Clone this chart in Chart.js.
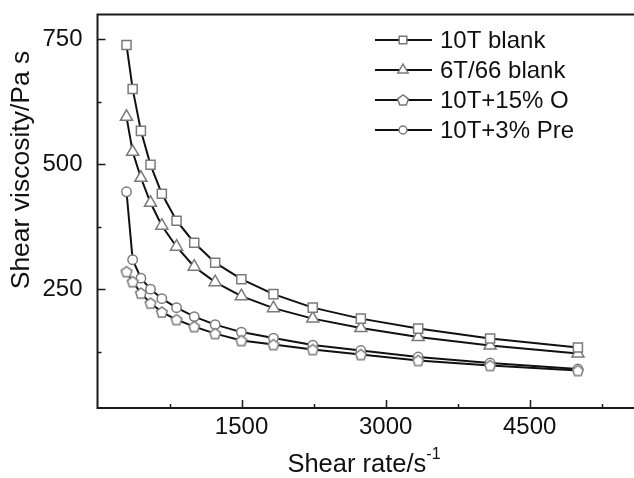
<!DOCTYPE html>
<html>
<head>
<meta charset="utf-8">
<script src="https://cdn.jsdelivr.net/npm/chart.js@4/dist/chart.umd.min.js"></script>
<style>
html, body { margin: 0; padding: 0; background: #fff; overflow: hidden; }
#wrap { width: 640px; height: 478px; }
</style>
</head>
<body>
<div id="wrap"><canvas id="graph1" width="640" height="478"></canvas></div>
<script>
// shear rate (1/s) shared by all four samples
const shearRate = [302, 366, 452, 552, 670, 823, 1007, 1225, 1498, 1832, 2241, 2742, 3339, 4088, 5002];

// shear viscosity (Pa s)
const blank10T   = [739, 651, 567, 499, 441, 387, 343, 303, 270, 240, 213, 191, 171, 151, 133];
const blank6T66  = [595, 525, 473, 423, 377, 335, 295, 264, 236, 212, 191, 172, 154, 137, 121];
const plus15O    = [285, 265, 242, 222, 204, 189, 175, 161, 147, 139, 129, 119, 107, 97, 87];
const plus3Pre   = [445, 309, 272, 250, 231, 213, 195, 179, 164, 152, 138, 127, 114, 102, 90];

const seriesNames = ['10T blank', '6T/66 blank', '10T+15% O', '10T+3% Pre'];

const xTicks = [750, 1500, 2250, 3000, 3750, 4500, 5250];
const xLabels = [1500, 3000, 4500];
const yTicks = [125, 250, 375, 500, 625, 750];
const yLabels = [250, 500, 750];

const FONT = 'Liberation Sans, Arial, sans-serif';
const markGray = '#7a7a7a';

// pentagon marker, chart.js has no built-in one
function makePentagon(r) {
    const c = document.createElement('canvas');
    const s = Math.ceil(r * 2 + 4);
    c.width = s; c.height = s;
    const g = c.getContext('2d');
    g.beginPath();
    for (let i = 0; i < 5; i++) {
        const a = -Math.PI / 2 + i * 2 * Math.PI / 5;
        const px = s / 2 + r * Math.cos(a);
        const py = s / 2 + r * Math.sin(a) + 0.5;
        if (i === 0) g.moveTo(px, py); else g.lineTo(px, py);
    }
    g.closePath();
    g.fillStyle = '#fff';
    g.fill();
    g.lineWidth = 1.5;
    g.strokeStyle = markGray;
    g.stroke();
    return c;
}
const pentagon = makePentagon(5.6);

function toPoints(vals) {
    return vals.map((v, i) => ({ x: shearRate[i], y: v }));
}

const styles = [
    { pointStyle: 'rect', pointRadius: 6.4 },
    { pointStyle: 'triangle', pointRadius: 7 },
    { pointStyle: pentagon, pointRadius: 6 },
    { pointStyle: 'circle', pointRadius: 4.7 }
];
const seriesData = [blank10T, blank6T66, plus15O, plus3Pre];

const datasets = seriesData.map((vals, i) => ({
    label: seriesNames[i],
    data: toPoints(vals),
    borderColor: '#111',
    borderWidth: 2,
    pointStyle: styles[i].pointStyle,
    pointRadius: styles[i].pointRadius,
    pointHoverRadius: styles[i].pointRadius,
    pointBackgroundColor: '#fff',
    pointBorderColor: markGray,
    pointBorderWidth: 1.5,
    tension: 0
}));

// frame, inward ticks, legend and axis titles
const decor = {
    id: 'decor',
    afterDraw(chart) {
        const ctx = chart.ctx;
        const a = chart.chartArea;
        const xs = chart.scales.x, ys = chart.scales.y;
        ctx.save();
        ctx.strokeStyle = '#1a1a1a';
        ctx.lineWidth = 2;
        ctx.strokeRect(a.left, a.top, a.right - a.left + 10, a.bottom - a.top);

        ctx.lineWidth = 1.5;
        xTicks.forEach(v => {
            const px = Math.round(xs.getPixelForValue(v)) + 0.5;
            const len = xLabels.includes(v) ? 8 : 4;
            ctx.beginPath();
            ctx.moveTo(px, a.bottom);
            ctx.lineTo(px, a.bottom - len);
            ctx.stroke();
        });
        yTicks.forEach(v => {
            const py = Math.round(ys.getPixelForValue(v)) + 0.5;
            const len = yLabels.includes(v) ? 8 : 4;
            ctx.beginPath();
            ctx.moveTo(a.left, py);
            ctx.lineTo(a.left + len, py);
            ctx.stroke();
        });

        // legend
        ctx.font = '24px ' + FONT;
        ctx.textBaseline = 'middle';
        ctx.textAlign = 'left';
        datasets.forEach((ds, i) => {
            const y = 40 + i * 30;
            ctx.strokeStyle = '#111';
            ctx.lineWidth = 2;
            ctx.beginPath();
            ctx.moveTo(375, y);
            ctx.lineTo(432, y);
            ctx.stroke();
            ctx.fillStyle = '#fff';
            ctx.strokeStyle = markGray;
            ctx.lineWidth = 1.5;
            Chart.helpers.drawPoint(ctx, {
                pointStyle: ds.pointStyle,
                radius: ds.pointRadius * 0.85,
                borderWidth: 1.5,
                rotation: 0
            }, 403, y);
            ctx.fillStyle = '#111';
            ctx.fillText(ds.label, 440, y + 1);
        });

        // y title
        ctx.fillStyle = '#111';
        ctx.font = '26.5px ' + FONT;
        ctx.textAlign = 'center';
        ctx.textBaseline = 'middle';
        ctx.save();
        ctx.translate(22, 170);
        ctx.rotate(-Math.PI / 2);
        ctx.fillText('Shear viscosity/Pa s', 0, 0);
        ctx.restore();

        // x title with superscript
        const main = 'Shear rate/s';
        const sup = '-1';
        ctx.font = '25.5px ' + FONT;
        const w1 = ctx.measureText(main).width;
        ctx.font = '16px ' + FONT;
        const w2 = ctx.measureText(sup).width;
        const x0 = 364 - (w1 + w2) / 2;
        ctx.textAlign = 'left';
        ctx.textBaseline = 'alphabetic';
        ctx.font = '25.5px ' + FONT;
        ctx.fillText(main, x0, 472);
        ctx.font = '16px ' + FONT;
        ctx.fillText(sup, x0 + w1, 459);
        ctx.restore();
    }
};

const config = {
    type: 'line',
    data: { datasets: datasets },
    options: {
        responsive: false,
        animation: false,
        devicePixelRatio: 1,
        layout: { padding: { left: 0, top: 14.5, right: 0, bottom: 0 } },
        plugins: { legend: { display: false }, tooltip: { enabled: false } },
        scales: {
            x: {
                type: 'linear',
                min: 0,
                max: 5560,
                afterBuildTicks: (scale) => { scale.ticks = xTicks.map(v => ({ value: v })); },
                afterFit: (scale) => {
                    scale.height = 70;
                    scale.paddingLeft = 0;
                    scale.paddingRight = 0;
                },
                grid: { display: false, drawTicks: false },
                border: { display: false },
                ticks: {
                    padding: 5,
                    color: '#111',
                    font: { family: FONT, size: 24 },
                    maxRotation: 0,
                    autoSkip: false,
                    callback: (v) => xLabels.includes(v) ? String(v) : ''
                }
            },
            y: {
                min: 12,
                max: 800,
                afterBuildTicks: (scale) => { scale.ticks = yTicks.map(v => ({ value: v })); },
                afterFit: (scale) => {
                    scale.width = 97.5;
                    scale.paddingTop = 0;
                    scale.paddingBottom = 0;
                },
                grid: { display: false, drawTicks: false },
                border: { display: false },
                ticks: {
                    padding: 15,
                    color: '#111',
                    font: { family: FONT, size: 24 },
                    autoSkip: false,
                    callback: (v) => yLabels.includes(v) ? String(v) : ''
                }
            }
        }
    },
    plugins: [decor]
};

const ctx = document.getElementById('graph1').getContext('2d');
new Chart(ctx, config);
</script>
</body>
</html>
